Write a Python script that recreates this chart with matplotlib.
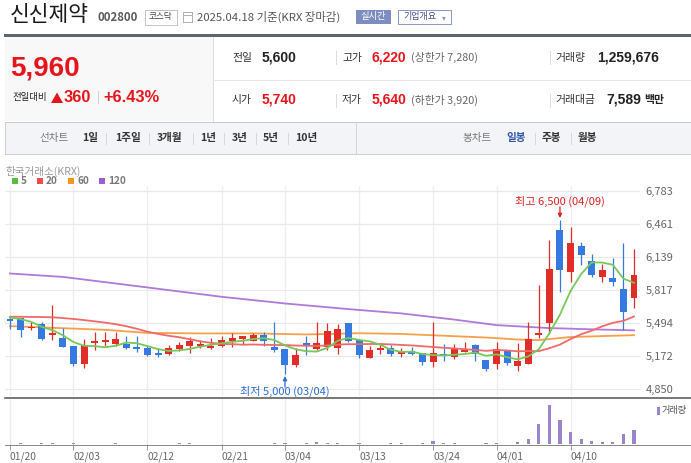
import matplotlib
matplotlib.use('Agg')
import matplotlib.pyplot as plt
from matplotlib.lines import Line2D
from matplotlib.patches import Rectangle, Polygon
import numpy as np

plt.rcParams['font.family'] = ['Noto Sans CJK KR', 'DejaVu Sans']

# ---------------- data ----------------
dates = ['01/20', '01/21', '01/22', '01/23', '01/24', '01/31',
         '02/03', '02/04', '02/05', '02/06', '02/07', '02/10', '02/11', '02/12', '02/13', '02/14',
         '02/17', '02/18', '02/19', '02/20', '02/21', '02/24', '02/25', '02/26', '02/27', '02/28',
         '03/04', '03/05', '03/06', '03/07', '03/10', '03/11', '03/12', '03/13', '03/14',
         '03/17', '03/18', '03/19', '03/20', '03/21', '03/24', '03/25', '03/26', '03/27', '03/28',
         '03/31', '04/01', '04/02', '04/03', '04/04', '04/07', '04/08', '04/09', '04/10', '04/11',
         '04/14', '04/15', '04/16', '04/17', '04/18']

open_ = [5534, 5544, 5447, 5486, 5381, 5349, 5271, 5099, 5301, 5310,
         5291, 5291, 5265, 5255, 5203, 5194, 5242, 5271, 5271, 5255,
         5271, 5320, 5340, 5320, 5379, 5261, 5242, 5089, 5301, 5242,
         5262, 5252, 5495, 5330, 5155, 5232, 5252, 5194, 5223, 5203,
         5116, 5194, 5167, 5216, 5281, 5135, 5096, 5230, 5077, 5099,
         5381, 5498, 6400, 5995, 6245, 6099, 5946, 5940, 5826, 5740]
high = [5566, 5550, 5502, 5502, 5670, 5447, 5271, 5342, 5408, 5408,
        5408, 5369, 5369, 5281, 5252, 5281, 5310, 5359, 5327, 5349,
        5369, 5398, 5369, 5398, 5408, 5505, 5242, 5252, 5369, 5505,
        5495, 5485, 5495, 5330, 5271, 5291, 5281, 5252, 5262, 5203,
        5505, 5291, 5291, 5310, 5291, 5135, 5307, 5230, 5298, 5502,
        5865, 6303, 6500, 6433, 6290, 6167, 6067, 6135, 6281, 6220]
low = [5434, 5359, 5430, 5335, 5333, 5265, 5080, 5060, 5235, 5271,
       5271, 5242, 5213, 5174, 5164, 5184, 5223, 5203, 5252, 5242,
       5261, 5261, 5291, 5320, 5271, 5216, 5000, 5070, 5184, 5232,
       5232, 5195, 5310, 5155, 5155, 5194, 5174, 5164, 5184, 5086,
       5067, 5126, 5145, 5216, 5128, 5031, 5050, 5089, 5031, 5096,
       5349, 5385, 5800, 5901, 6063, 5946, 5894, 5858, 5427, 5640]
close = [5518, 5430, 5459, 5342, 5388, 5265, 5099, 5281, 5320, 5333,
         5340, 5255, 5245, 5184, 5184, 5252, 5281, 5320, 5291, 5274,
         5330, 5349, 5369, 5379, 5320, 5235, 5089, 5184, 5281, 5301,
         5417, 5437, 5320, 5184, 5232, 5252, 5194, 5213, 5194, 5116,
         5203, 5174, 5249, 5226, 5191, 5045, 5242, 5109, 5122, 5336,
         5398, 6021, 6011, 6274, 6164, 5965, 6018, 5897, 5600, 5960]
volume = [30000, 120000, 30000, 120000, 120000, 30000, 120000, 30000, 30000, 30000,
          120000, 30000, 30000, 30000, 30000, 30000, 120000, 120000, 30000, 30000,
          30000, 30000, 30000, 30000, 30000, 120000, 120000, 30000, 120000, 220000,
          120000, 120000, 30000, 120000, 30000, 30000, 120000, 120000, 30000, 120000,
          310000, 120000, 120000, 30000, 30000, 120000, 120000, 30000, 220000, 410000,
          1760000, 3460000, 2110000, 1070000, 410000, 310000, 220000, 220000, 880000, 1259676]

ma5 = [5551, 5534, 5508, 5459, 5427, 5377, 5311, 5275, 5271, 5260,
       5275, 5306, 5299, 5271, 5242, 5224, 5229, 5244, 5266, 5284,
       5299, 5313, 5323, 5340, 5349, 5330, 5278, 5241, 5222, 5218,
       5254, 5324, 5351, 5332, 5318, 5285, 5236, 5215, 5217, 5194,
       5184, 5180, 5187, 5194, 5209, 5177, 5191, 5163, 5142, 5171,
       5241, 5397, 5578, 5808, 5974, 6087, 6086, 6064, 5929, 5888]
ma20 = [5557, 5557, 5556, 5555, 5552, 5545, 5536, 5525, 5513, 5500,
        5485, 5465, 5440, 5412, 5390, 5372, 5358, 5338, 5318, 5303,
        5294, 5290, 5285, 5287, 5284, 5282, 5282, 5277, 5275, 5273,
        5277, 5286, 5290, 5290, 5292, 5292, 5288, 5283, 5278, 5270,
        5263, 5255, 5249, 5241, 5235, 5225, 5233, 5229, 5221, 5223,
        5222, 5251, 5286, 5340, 5387, 5422, 5464, 5498, 5518, 5560]
ma60_day = [1, 5, 10, 14, 19, 24, 29, 34, 38, 43, 46, 49, 51, 54, 57, 60]
ma60 = [5466, 5450, 5430, 5400, 5395, 5395, 5385, 5397, 5390, 5368, 5355, 5336, 5330, 5360, 5369, 5378]
ma120_day = [1, 6, 14, 21, 27, 33, 38, 43, 47, 52, 56, 60]
ma120 = [5979, 5946, 5843, 5752, 5687, 5632, 5590, 5530, 5476, 5447, 5435, 5425]

price_ticks = [4850, 5172, 5494, 5817, 6139, 6461, 6783]
price_tick_labels = ['4,850', '5,172', '5,494', '5,817', '6,139', '6,461', '6,783']
date_ticks = ['01/20', '02/03', '02/12', '02/21', '03/04', '03/13', '03/24', '04/01', '04/10']

# ---------------- figure ----------------
W, H = 691, 463
fig = plt.figure(figsize=(W / 100, H / 100), dpi=100)
fig.patch.set_facecolor('white')

RED = '#e8141b'
UP = '#e12d27'
DOWN = '#3679e0'


def fx(x):
    return x / W


def fy(y):
    return 1 - y / H


def text(x, y, s, size, color='#333', weight='normal', ha='left', va='center', family=None):
    kw = {}
    if family:
        kw['family'] = family
    fig.text(fx(x), fy(y), s, fontsize=size, color=color, fontweight=weight,
             ha=ha, va=va, **kw)


def hline(x0, x1, y, color, lw=1.0):
    fig.add_artist(Line2D([fx(x0), fx(x1)], [fy(y), fy(y)], color=color,
                          lw=lw * 0.72, transform=fig.transFigure))


def vline(x, y0, y1, color, lw=1.0):
    fig.add_artist(Line2D([fx(x), fx(x)], [fy(y0), fy(y1)], color=color,
                          lw=lw * 0.72, transform=fig.transFigure))


def rect(x0, y0, x1, y1, fc='none', ec='none', lw=1.0):
    fig.add_artist(Rectangle((fx(x0), fy(y1)), (x1 - x0) / W, (y1 - y0) / H,
                             transform=fig.transFigure, facecolor=fc,
                             edgecolor=ec, lw=lw * 0.72))


LIB = ['Liberation Sans', 'DejaVu Sans']

# header
text(10, 15, '신신제약', 15.5, '#1a1a1a')
text(98, 17.5, '002800', 8.2, '#5a5a5a', 'bold')
rect(144.5, 9.5, 176.5, 24.5, fc='white', ec='#c4c4c4')
text(160.5, 17, '코스닥', 6.2, '#444', ha='center')
rect(183.5, 12.5, 191.5, 21.5, fc='white', ec='#b0b0b0')
hline(183.5, 191.5, 14.5, '#b0b0b0')
text(197, 17, '2025.04.18 기준(KRX 장마감)', 8.2, '#555')
rect(356, 10.5, 391, 24, fc='#7d8dc0')
text(373.5, 17, '실시간', 6.7, 'white', ha='center')
rect(397.5, 10.5, 450.5, 24, fc='white', ec='#8a9acb')
text(403, 17, '기업개요', 6.5, '#3d4f8f')
text(443.5, 17.5, '▾', 5.5, '#8a9acb', ha='center', family='DejaVu Sans')
hline(5, 691, 35, '#5e6470', lw=3)

# info box
rect(5, 36.5, 213, 121.5, fc='#f8f8f8')
vline(213, 36.5, 121.5, '#dcdcdc')
text(10.5, 68, '5,960', 20, RED, 'bold', family=LIB)
text(12, 97.5, '전일대비', 6.8, '#222')
fig.add_artist(Polygon([[fx(51), fy(103)], [fx(63), fy(103)], [fx(57), fy(92.5)]],
                       closed=True, transform=fig.transFigure, facecolor=RED,
                       edgecolor='none'))
text(63.5, 97, '360', 11.8, RED, 'bold', family=LIB)
vline(97.5, 91, 103, '#d0d0d0')
text(103.5, 97, '+6.43%', 11.8, RED, 'bold', family=LIB)

# row 1
text(232, 57.5, '전일', 7.8, '#333')
text(262, 57.5, '5,600', 10, '#222', 'bold', family=LIB)
vline(336, 51, 64, '#dddddd')
text(342, 57.5, '고가', 7.8, '#333')
text(372, 57.5, '6,220', 10, RED, 'bold', family=LIB)
text(411, 57.5, '(상한가 7,280)', 7.8, '#666')
vline(550, 51, 64, '#dddddd')
text(555, 57.5, '거래량', 7.8, '#333')
text(597, 57.5, '1,259,676', 10, '#222', 'bold', family=LIB)
hline(213, 691, 79.5, '#e6e6e6')
# row 2
text(232, 100, '시가', 7.8, '#333')
text(262, 100, '5,740', 10, RED, 'bold', family=LIB)
vline(336, 93.5, 106.5, '#dddddd')
text(342, 100, '저가', 7.8, '#333')
text(372, 100, '5,640', 10, RED, 'bold', family=LIB)
text(411, 100, '(하한가 3,920)', 7.8, '#666')
vline(550, 93.5, 106.5, '#dddddd')
text(555, 100, '거래대금', 7.8, '#333')
text(606, 100, '7,589', 10, '#222', 'bold', family=LIB)
text(644, 100, '백만', 7.8, '#222', 'bold')

# tab bar
rect(5, 122, 691, 153.5, fc='#f3f4f7')
hline(5, 691, 121.8, '#c9c9c9')
hline(5, 691, 153.5, '#cfcfcf')
vline(5.5, 122, 153.5, '#cfcfcf')
vline(356, 122, 153.5, '#d5d5d5')
text(39, 138, '선차트', 7.6, '#777')
for xx, s in [(82, '1일'), (115, '1주일'), (157, '3개월'), (200, '1년'), (232, '3년'),
              (263, '5년'), (295, '10년')]:
    text(xx, 138, s, 7.6, '#333', 'bold')
for xx in [106, 149, 193, 224, 256, 288]:
    vline(xx, 132.5, 143.5, '#d8d8d8')
text(462, 138, '봉차트', 7.6, '#777')
text(506, 138, '일봉', 7.6, '#3355a8', 'bold')
text(542, 138, '주봉', 7.6, '#333', 'bold')
text(578, 138, '월봉', 7.6, '#333', 'bold')
for xx in [534.5, 570.5]:
    vline(xx, 132.5, 143.5, '#d8d8d8')

# chart labels / legend
text(5, 171.5, '한국거래소(KRX)', 7.6, '#9a9a9a')
legend = [(12, '#5bbd3f', '5'), (36.7, '#ef4b4b', '20'), (68, '#f7941d', '60'), (99, '#9b5fcf', '120')]
for xx, c, s in legend:
    rect(xx, 178, xx + 6, 184, fc=c)
    text(xx + 9, 181, s, 7.2, '#777', 'bold')

# ---------------- price axes ----------------
n = len(dates)
idx = np.arange(n)
o = np.array(open_, float)
c = np.array(close, float)
h = np.array(high, float)
l = np.array(low, float)
up = c >= o
cols = np.where(up, UP, DOWN)

PX_PER_DAY = 624 / 59
x_left = -5 / PX_PER_DAY
x_right = 59 + 6 / PX_PER_DAY

ax = fig.add_axes([fx(5), fy(396), 635 / W, 210 / H])
ax.set_xlim(x_left, x_right)
ax.set_ylim(4785, 6832)
for s in ax.spines.values():
    s.set_visible(False)
tick_idx = [dates.index(d) for d in date_ticks]
ax.set_xticks(tick_idx)
ax.set_xticklabels([])
ax.tick_params(axis='x', length=0)
ax.set_yticks(price_ticks)
ax.set_yticklabels(price_tick_labels)
ax.yaxis.tick_right()
ax.tick_params(axis='y', length=0, pad=4, labelsize=8, labelcolor='#666')
ax.grid(axis='y', color='#e9e9e9', lw=0.9)
ax.grid(axis='x', color='#eeeeee', lw=0.9)
ax.set_axisbelow(True)

ax.plot(np.array(ma120_day) - 1, ma120, color='#b07ad8', lw=1.3, zorder=2)
ax.plot(np.array(ma60_day) - 1, ma60, color='#f7a04a', lw=1.3, zorder=2)

ax.vlines(idx, l, h, colors=cols, lw=0.9, zorder=3)
body_h = np.maximum(np.abs(c - o), 14)
ax.bar(idx, body_h, bottom=np.minimum(o, c), width=0.66, color=cols,
       edgecolor='none', zorder=4)

ax.plot(idx, ma20, color='#f06a6a', lw=1.3, zorder=5)
ax.plot(idx, ma5, color='#77c75a', lw=1.3, zorder=5)

imax = int(np.argmax(h))
imin = int(np.argmin(l))
ax.annotate('', xy=(imax, h[imax]), xytext=(0, 9.5), textcoords='offset points',
            arrowprops=dict(arrowstyle='-|>', color='#e02020', lw=0.9, shrinkA=0,
                            shrinkB=1.5, mutation_scale=6), zorder=6)
ax.annotate('최고 {:,} ({})'.format(int(h[imax]), dates[imax]), xy=(imax, h[imax]),
            xytext=(0, 13.8), textcoords='offset points', ha='center', va='center',
            fontsize=8, color='#e02020', zorder=6)
ax.annotate('', xy=(imin, l[imin]), xytext=(0, -9.5), textcoords='offset points',
            arrowprops=dict(arrowstyle='-|>', color='#2a6fd6', lw=0.9, shrinkA=0,
                            shrinkB=1.5, mutation_scale=6), zorder=6)
ax.annotate('최저 {:,} ({})'.format(int(l[imin]), dates[imin]), xy=(imin, l[imin]),
            xytext=(0, -12.2), textcoords='offset points', ha='center', va='center',
            fontsize=8, color='#2a6fd6', zorder=6)

hline(5, 691, 397.5, '#5a5a5a', lw=1.6)

# ---------------- volume axes ----------------
axv = fig.add_axes([fx(5), fy(444), 635 / W, 45.5 / H])
axv.set_xlim(x_left, x_right)
axv.set_ylim(0, 4080000)
for s in axv.spines.values():
    s.set_visible(False)
axv.set_yticks([])
axv.set_xticks(tick_idx)
axv.set_xticklabels(date_ticks, ha='left')
axv.tick_params(axis='x', length=4, width=0.7, color='#999', pad=1.5,
                labelsize=7.4, labelcolor='#666')
axv.grid(axis='x', color='#eeeeee', lw=0.9)
axv.set_axisbelow(True)
axv.bar(idx, volume, width=0.3, color='#9b84c9', edgecolor='none')
hline(5, 691, 444.5, '#8a8a8a', lw=1)

rect(656.5, 406.5, 659.5, 414.5, fc='#9b84c9')
text(662, 410.5, '거래량', 6.6, '#555')

fig.savefig('out.png', dpi=100)
